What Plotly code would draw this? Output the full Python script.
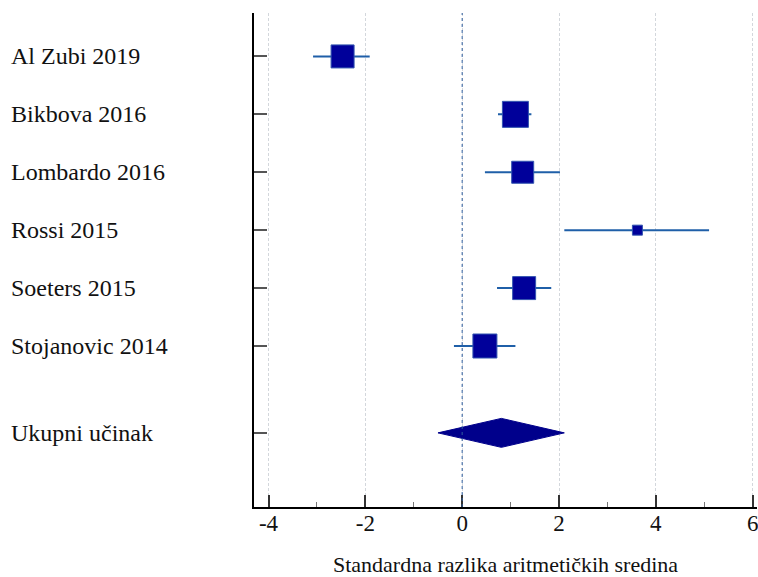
import plotly.graph_objects as go

# Study data (standardized mean difference with 95% CI)
studies = ['Al Zubi 2019', 'Bikbova 2016', 'Lombardo 2016', 'Rossi 2015',
           'Soeters 2015', 'Stojanovic 2014']
smd = [-2.47, 1.10, 1.25, 3.62, 1.28, 0.47]
ci_low = [-3.08, 0.74, 0.47, 2.11, 0.72, -0.17]
ci_high = [-1.91, 1.43, 2.02, 5.10, 1.84, 1.10]
weights = [23, 26, 22, 10, 23, 24]  # marker size ~ study weight

pooled_label = 'Ukupni učinak'
pooled_est = 0.81
pooled_low = -0.50
pooled_high = 2.11

x_ticks = [-4, -2, 0, 2, 4, 6]
x_ticklabels = ['-4', '-2', '0', '2', '4', '6']

rows = list(range(1, len(studies) + 1))
pooled_row = 7.5

serif = 'Liberation Serif'

fig = go.Figure()

# CI lines
ci_x, ci_y = [], []
for lo, hi, r in zip(ci_low, ci_high, rows):
    ci_x += [lo, hi, None]
    ci_y += [r, r, None]
fig.add_trace(go.Scatter(
    x=ci_x, y=ci_y, mode='lines',
    line=dict(color='#1f5fa8', width=2),
    hoverinfo='skip', showlegend=False
))

# study squares
fig.add_trace(go.Scatter(
    x=smd, y=rows, mode='markers',
    marker=dict(symbol='square', size=weights, color='#00009a', opacity=1,
                line=dict(color='#3355b0', width=1)),
    text=studies,
    hovertemplate='%{text}<br>SMD: %{x:.2f}<extra></extra>',
    showlegend=False
))

# pooled diamond
h = 0.25
fig.add_trace(go.Scatter(
    x=[pooled_low, pooled_est, pooled_high, pooled_est, pooled_low],
    y=[pooled_row, pooled_row - h, pooled_row, pooled_row + h, pooled_row],
    mode='lines', fill='toself', fillcolor='#00008b',
    line=dict(color='#00008b', width=1),
    hoverinfo='skip', showlegend=False
))

# zero reference line
fig.add_shape(type='line', xref='x', yref='paper', x0=0, x1=0, y0=0, y1=1,
              line=dict(color='#2f5f9f', width=1, dash='dot'), layer='above')

# row labels, left aligned
for lab, r in zip(studies + [pooled_label], rows + [pooled_row]):
    fig.add_annotation(
        x=-0.488, xref='paper', y=r, yref='y', text=lab, showarrow=False,
        xanchor='left', yanchor='middle',
        font=dict(family=serif, size=24, color='#111')
    )

fig.update_xaxes(
    range=[-4.30, 6.09],
    tickvals=x_ticks, ticktext=x_ticklabels,
    ticks='inside', ticklen=12, tickwidth=2, tickcolor='#333',
    minor=dict(ticks='inside', ticklen=5, tickwidth=1, tickcolor='#777',
               dtick=1, showgrid=False),
    showgrid=True, gridcolor='#d3d7dc', griddash='3px,2px', gridwidth=1,
    zeroline=False,
    showline=True, linecolor='black', linewidth=2,
    tickfont=dict(family=serif, size=23, color='#111'),
    ticklabelstandoff=-6, ticklabeloverflow='allow', automargin=False,
    title=dict(text='Standardna razlika aritmetičkih sredina',
               font=dict(family=serif, size=22, color='#111'), standoff=22),
)
fig.update_yaxes(
    range=[8.78, 0.25],
    tickvals=rows + [pooled_row],
    ticks='inside', ticklen=13, tickwidth=2, tickcolor='#555',
    showticklabels=False, showgrid=False, zeroline=False,
    showline=True, linecolor='black', linewidth=2, automargin=False,
)

fig.update_layout(
    width=758, height=577,
    margin=dict(l=254, r=1, t=13, b=70),
    plot_bgcolor='white', paper_bgcolor='white',
    font=dict(family=serif, color='#111'),
    showlegend=False,
)

# drop the default page margin so the figure fills the window exactly
fig.write_html('out.html',
               config={'displayModeBar': False},
               post_script="document.body.style.margin='0';"
                           "document.body.style.overflow='hidden';")
